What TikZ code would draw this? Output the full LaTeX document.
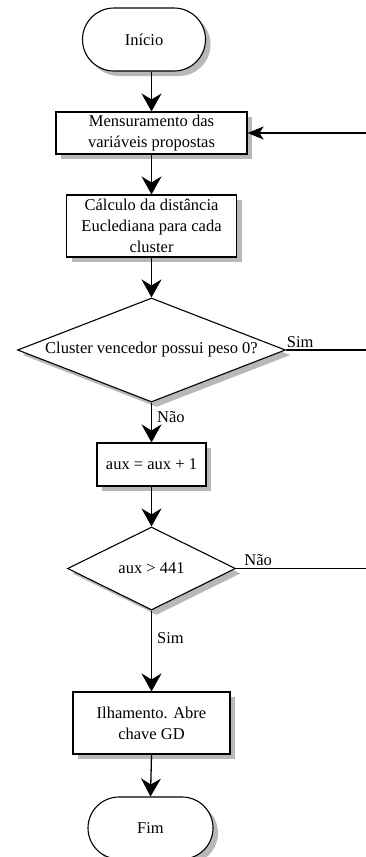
\documentclass[tikz,border=0pt]{standalone}
\usepackage{fontspec}
\setmainfont{Liberation Serif}
\usetikzlibrary{shapes.geometric,shapes.misc,shadows,arrows.meta}
\begin{document}
\begin{tikzpicture}[x=1pt,y=1pt,
  every node/.style={font=\fontsize{16.5}{21}\selectfont},
  shd/.style={drop shadow={shadow xshift=5pt,shadow yshift=-5pt,fill=black!28,opacity=1}},
  procbox/.style={rectangle,draw,line width=1.1pt,fill=white,inner sep=0pt,align=center,shd},
  term/.style={rounded rectangle,draw,line width=1.1pt,fill=white,inner sep=0pt,shd},
  decision/.style={diamond,draw,line width=1.1pt,fill=white,inner sep=0pt,shd},
  lbl/.style={inner sep=0pt,font=\fontsize{16.5}{19}\selectfont},
  flow/.style={line width=1.3pt,-{Stealth[length=18pt,width=20pt,inset=6pt]}},
  sideflow/.style={line width=1.3pt,-{Stealth[length=16pt,width=13pt,inset=4pt]}},
  wire/.style={line width=1.2pt}]
\useasboundingbox (0,0) rectangle (366,-857);
\node[term,minimum width=123pt,minimum height=63pt] (start) at (144,-39.5) {Início};
\node[procbox,minimum width=191pt,minimum height=42pt] (b1) at (151.5,-133) {Mensuramento das\\variáveis propostas};
\node[procbox,minimum width=170pt,minimum height=62pt] (b2) at (151.5,-226) {Cálculo da distância\\Euclediana para cada\\cluster};
\node[decision,shape aspect=2.58,minimum width=268pt,minimum height=104pt] (d1) at (151.5,-350) {Cluster vencedor possui peso 0?};
\node[procbox,minimum width=109pt,minimum height=43pt] (b3) at (151.5,-464.5) {aux = aux + 1};
\node[decision,shape aspect=2.02,minimum width=168pt,minimum height=83pt] (d2) at (151.5,-568.5) {aux > 441};
\node[procbox,minimum width=157pt,minimum height=62pt] (b4) at (151.5,-723) {Ilhamento. Abre\\chave GD};
\node[term,minimum width=125pt,minimum height=62pt] (fim) at (150.5,-828) {Fim};
\coordinate (rail) at (374,0);

\draw[flow] (start.south -| b1.north) -- (b1.north);
\draw[flow] (b1.south) -- (b2.north);
\draw[flow] (b2.south) -- (d1.north);
\draw[flow] (d1.south) -- node[lbl,pos=0.37,anchor=west,xshift=5pt] {Não} (b3.north);
\draw[flow] (b3.south) -- (d2.north);
\draw[flow] (d2.south) -- node[lbl,pos=0.34,anchor=west,xshift=5pt] {Sim} (b4.north);
\draw[flow] (b4.south) -- (fim.north);
\draw[wire] (d1.east) -- node[lbl,pos=0.16,anchor=south,yshift=2pt] {Sim} (d1.east -| rail);
\draw[sideflow] (d1.east -| rail) |- (b1.east);
\draw[wire] (d2.east) -- node[lbl,pos=0.16,anchor=south,yshift=2pt] {Não} (d2.east -| rail) -- (d1.east -| rail);
\end{tikzpicture}
\end{document}
